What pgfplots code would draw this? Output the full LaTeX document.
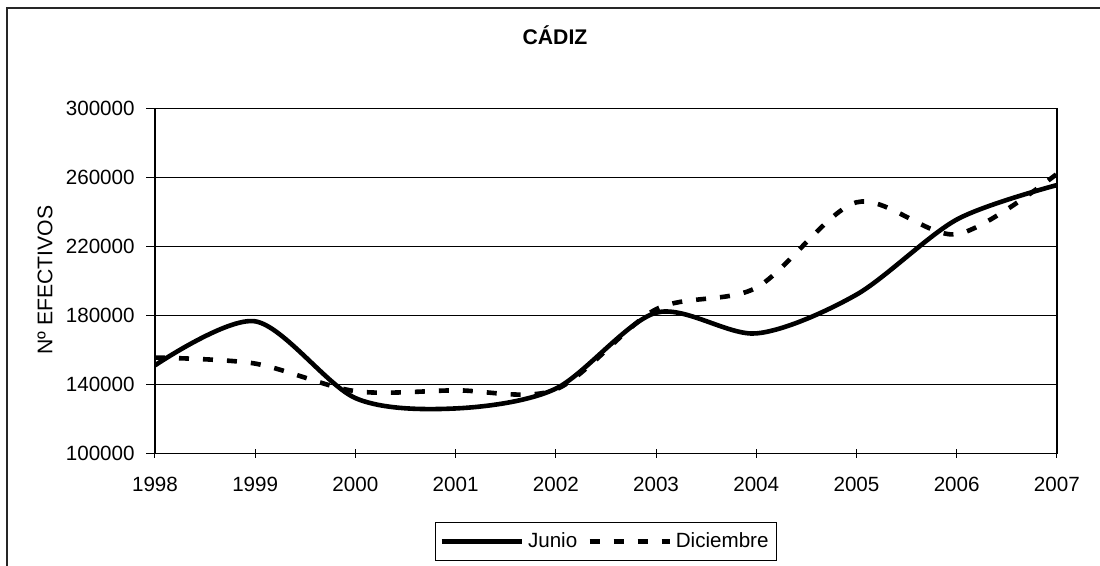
\documentclass[border=0pt]{standalone}
\usepackage{pgfplots}
\pgfplotsset{compat=1.18}
\usepackage{fontspec}
\setmainfont{Liberation Sans}
\pgfplotstableread{
year junio diciembre
1998 151000 155500
1999 176500 152000
2000 132000 136000
2001 126000 136500
2002 137500 137000
2003 181500 183500
2004 169500 196000
2005 192000 245500
2006 235500 227000
2007 255500 262000
}\datatable
\begin{document}
\begin{tikzpicture}
\useasboundingbox (0,0) rectangle (550pt,283pt);
\fill[white] (0,0) rectangle (550pt,283pt);
\draw[line width=0.7pt, black!85] (3.5pt,-5pt) -- (3.5pt,279pt) -- (560pt,279pt);
\node[font=\fontsize{10.6}{12}\selectfont\bfseries] at (277.5pt,265.5pt) {CÁDIZ};
\node[font=\fontsize{10.6}{12}\selectfont, rotate=90] at (22.5pt,143pt) {Nº EFECTIVOS};
\begin{axis}[
  at={(77.5pt,56.35pt)}, anchor=south west,
  scale only axis, width=451pt, height=172.5pt,
  xmin=1998, xmax=2007, ymin=100000, ymax=300000,
  xtick={1998,...,2007},
  xticklabels={1998,1999,2000,2001,2002,2003,2004,2005,2006,2007},
  ytick={100000,140000,180000,220000,260000,300000},
  yticklabels={100000,140000,180000,220000,260000,300000},
  scaled y ticks=false,
  ymajorgrids, grid style={black, line width=0.5pt},
  axis line style={black, line width=0.6pt},
  every tick/.style={black, line width=0.5pt},
  xtick align=center, ytick align=outside,
  major tick length=4.5pt,
  xtick pos=bottom, ytick pos=left,
  tick label style={font=\fontsize{10.3}{12}\selectfont},
  yticklabel style={inner sep=0pt, anchor=east, xshift=-5.5pt},
  xticklabel style={inner sep=0pt, anchor=north, yshift=-9.5pt},
  legend style={at={(0.5,-0.256)}, anchor=center, draw=black, line width=0.5pt,
    font=\fontsize{10.3}{12}\selectfont, legend columns=2,
    inner xsep=2pt, inner ysep=3pt,
    /tikz/every even column/.append style={column sep=3pt}},
  legend image code/.code={\draw[#1] (0pt,0pt) -- (40pt,0pt);},
  legend cell align=left,
]
\addplot[black, line width=2.3pt, smooth] table[x=year, y=junio] {\datatable};
\addlegendentry{Junio}
\addplot[black, line width=2.3pt, smooth, dash pattern=on 5pt off 7pt] table[x=year, y=diciembre] {\datatable};
\addlegendentry{Diciembre}
\end{axis}
\end{tikzpicture}
\end{document}
